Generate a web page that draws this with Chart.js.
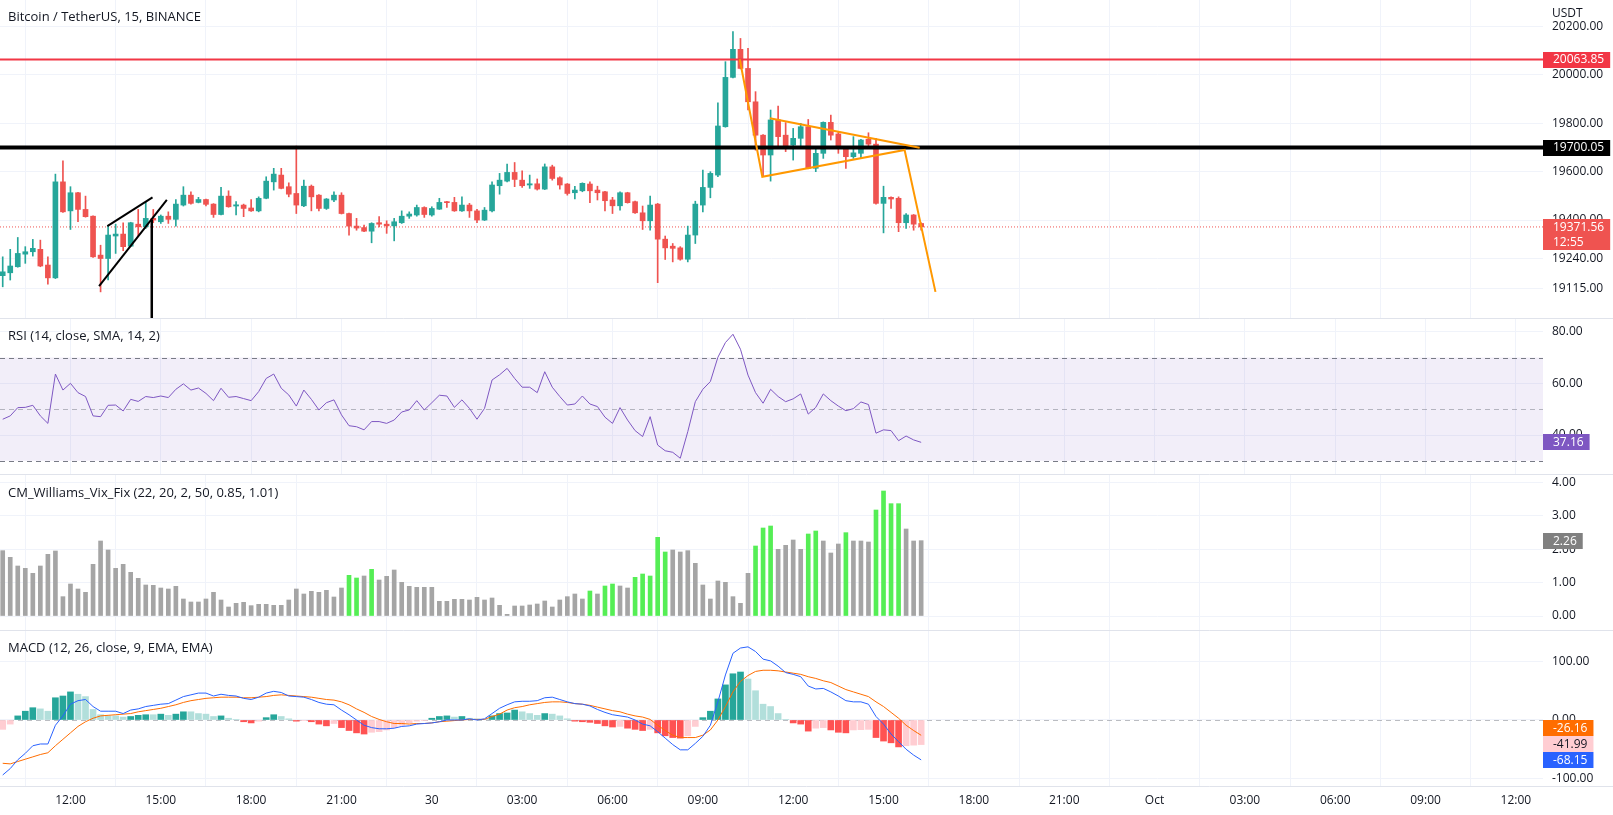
<!DOCTYPE html>
<html>
<head>
<meta charset="utf-8">
<title>BTCUSDT 15</title>
<script src="https://cdn.jsdelivr.net/npm/chart.js@4.4.1/dist/chart.umd.min.js"></script>
<style>
  html, body { margin: 0; padding: 0; background: #fff; }
  body { position: relative; width: 1613px; height: 815px; overflow: hidden; font-family: "Open Sans", sans-serif; color: #131722; }
  canvas { position: absolute; left: 0; }
  .label { position: absolute; left: 8px; font-size: 13px; line-height: 16px; white-space: nowrap; }
</style>
</head>
<body>
<canvas id="priceChart" width="1613" height="318" style="top:0"></canvas>
<canvas id="rsiChart" width="1613" height="156" style="top:318px"></canvas>
<canvas id="vixChart" width="1613" height="156" style="top:474px"></canvas>
<canvas id="macdChart" width="1613" height="185" style="top:630px"></canvas>
<div class="label" style="top:8px">Bitcoin / TetherUS, 15, BINANCE</div>
<div class="label" style="top:327px">RSI (14, close, SMA, 14, 2)</div>
<div class="label" style="top:484px">CM_Williams_Vix_Fix (22, 20, 2, 50, 0.85, 1.01)</div>
<div class="label" style="top:639px">MACD (12, 26, close, 9, EMA, EMA)</div>
<div class="label" style="left:1552px;top:5px;font-size:12px">USDT</div>
<script>
// 15m candles, 29 Sep 09:45 -> 30 Sep 16:15
const opens = [19170, 19182, 19207, 19259, 19269, 19279, 19214, 19161, 19558, 19438,
  19513, 19444, 19416, 19255, 19241, 19334, 19342, 19292, 19383, 19372,
  19407, 19393, 19416, 19403, 19462, 19503, 19473, 19485, 19466, 19423,
  19499, 19458, 19462, 19450, 19438, 19490, 19558, 19586, 19538, 19510,
  19459, 19540, 19503, 19448, 19483, 19503, 19427, 19375, 19369, 19354,
  19389, 19383, 19376, 19389, 19416, 19421, 19452, 19421, 19445, 19476,
  19473, 19438, 19462, 19438, 19400, 19438, 19542, 19561, 19597, 19565,
  19545, 19550, 19528, 19620, 19575, 19549, 19513, 19521, 19549, 19524,
  19517, 19483, 19459, 19513, 19476, 19430, 19397, 19466, 19321, 19292,
  19285, 19238, 19338, 19462, 19535, 19586, 19786, 19990, 20106, 20027,
  19889, 19751, 19669, 19814, 19751, 19710, 19738, 19786, 19614, 19676,
  19804, 19756, 19696, 19662, 19676, 19734, 19714, 19469, 19494, 19490,
  19389, 19421, 19386];
const highs = [19248, 19279, 19328, 19290, 19320, 19317, 19248, 19590, 19645, 19538,
  19515, 19499, 19418, 19296, 19375, 19383, 19389, 19391, 19444, 19476,
  19444, 19421, 19434, 19485, 19538, 19517, 19494, 19487, 19468, 19535,
  19521, 19476, 19466, 19485, 19496, 19579, 19614, 19614, 19554, 19706,
  19565, 19545, 19505, 19489, 19517, 19513, 19429, 19407, 19379, 19389,
  19414, 19397, 19407, 19438, 19434, 19462, 19455, 19455, 19490, 19477,
  19494, 19496, 19469, 19444, 19452, 19558, 19593, 19632, 19638, 19604,
  19586, 19570, 19632, 19627, 19579, 19551, 19540, 19554, 19558, 19540,
  19519, 19494, 19517, 19515, 19478, 19458, 19499, 19469, 19334, 19303,
  19290, 19375, 19478, 19607, 19600, 19885, 20055, 20179, 20151, 20110,
  19931, 19753, 19855, 19871, 19803, 19779, 19800, 19816, 19696, 19806,
  19834, 19765, 19703, 19745, 19734, 19761, 19738, 19540, 19496, 19496,
  19427, 19423, 19389];
const lows = [19124, 19152, 19205, 19221, 19251, 19207, 19135, 19158, 19432, 19361,
  19393, 19412, 19245, 19103, 19152, 19262, 19273, 19290, 19331, 19365,
  19389, 19386, 19386, 19375, 19458, 19466, 19471, 19458, 19411, 19421,
  19453, 19421, 19414, 19436, 19434, 19488, 19524, 19529, 19496, 19427,
  19455, 19438, 19438, 19444, 19476, 19425, 19338, 19358, 19352, 19306,
  19372, 19345, 19314, 19386, 19407, 19416, 19411, 19416, 19444, 19452,
  19436, 19436, 19411, 19389, 19398, 19434, 19507, 19558, 19538, 19535,
  19531, 19524, 19526, 19565, 19528, 19503, 19487, 19517, 19472, 19483,
  19438, 19427, 19441, 19470, 19427, 19361, 19358, 19141, 19237, 19227,
  19234, 19227, 19303, 19434, 19492, 19579, 19784, 19988, 20025, 19855,
  19689, 19579, 19561, 19703, 19683, 19648, 19703, 19612, 19600, 19655,
  19731, 19676, 19614, 19655, 19655, 19703, 19466, 19347, 19448, 19352,
  19365, 19358, 19358];
const closes = [19186, 19210, 19262, 19269, 19283, 19210, 19161, 19558, 19434, 19513,
  19444, 19414, 19248, 19241, 19338, 19342, 19290, 19389, 19372, 19407,
  19400, 19416, 19403, 19466, 19503, 19469, 19485, 19465, 19423, 19499,
  19455, 19463, 19448, 19438, 19490, 19561, 19590, 19531, 19507, 19462,
  19540, 19496, 19448, 19487, 19503, 19427, 19375, 19367, 19354, 19386,
  19383, 19376, 19393, 19416, 19425, 19452, 19423, 19448, 19473, 19472,
  19438, 19462, 19438, 19400, 19441, 19545, 19565, 19597, 19568, 19542,
  19550, 19528, 19620, 19572, 19545, 19510, 19524, 19552, 19521, 19513,
  19480, 19459, 19513, 19472, 19430, 19397, 19462, 19321, 19285, 19283,
  19238, 19338, 19466, 19535, 19593, 19789, 19990, 20106, 20027, 19889,
  19751, 19669, 19814, 19745, 19703, 19738, 19786, 19614, 19676, 19804,
  19751, 19696, 19662, 19678, 19731, 19714, 19469, 19494, 19487, 19389,
  19421, 19383, 19371.56];

const rsi = [46.1, 47.4, 50.6, 50.7, 51.5, 47.4, 44.5, 63.6, 57.4, 60.0,
  56.4, 54.9, 47.4, 47.1, 51.5, 51.6, 49.3, 53.8, 53.0, 54.9,
  54.5, 55.1, 54.5, 57.7, 59.8, 57.4, 58.2, 56.1, 53.3, 58.1,
  54.6, 54.9, 54.1, 53.3, 56.8, 61.9, 63.6, 58.1, 55.5, 51.2,
  57.4, 53.8, 49.7, 52.5, 53.6, 47.8, 43.6, 43.2, 42.0, 45.2,
  45.2, 44.5, 45.8, 48.9, 49.7, 53.3, 49.7, 52.5, 55.4, 55.1,
  50.7, 53.6, 50.3, 46.1, 50.3, 61.3, 63.3, 65.8, 61.9, 58.5,
  58.5, 56.4, 64.5, 58.5, 54.9, 51.6, 52.0, 55.1, 52.0, 51.0,
  46.9, 44.5, 50.6, 45.8, 41.7, 39.4, 47.1, 36.1, 33.9, 33.3,
  31.0, 41.3, 52.9, 57.7, 60.7, 70.1, 75.8, 79.0, 73.2, 63.2,
  56.4, 52.3, 57.7, 54.9, 52.9, 54.0, 55.9, 48.1, 50.7, 55.9,
  53.3, 51.2, 49.4, 50.2, 52.8, 51.8, 40.7, 42.0, 41.7, 37.8,
  39.6, 38.1, 37.16];

const vix = [1.96, 1.76, 1.50, 1.43, 1.28, 1.50, 1.85, 1.95, 0.58, 0.96,
  0.81, 0.71, 1.55, 2.25, 1.98, 1.43, 1.55, 1.31, 1.13, 0.93,
  0.92, 0.84, 0.81, 0.89, 0.51, 0.42, 0.42, 0.51, 0.71, 0.48,
  0.27, 0.38, 0.41, 0.31, 0.35, 0.35, 0.32, 0.32, 0.48, 0.81,
  0.66, 0.74, 0.71, 0.77, 0.57, 0.84, 1.22, 1.14, 1.20, 1.40,
  1.08, 1.19, 1.38, 1.01, 0.89, 0.86, 0.86, 0.86, 0.44, 0.44,
  0.50, 0.50, 0.48, 0.56, 0.48, 0.54, 0.32, 0.05, 0.30, 0.30,
  0.33, 0.36, 0.45, 0.27, 0.48, 0.58, 0.66, 0.51, 0.75, 0.66,
  0.90, 0.96, 0.90, 0.84, 1.16, 1.26, 1.20, 2.36, 1.92, 1.98,
  1.92, 1.96, 1.58, 0.93, 0.51, 1.05, 1.01, 0.58, 0.38, 1.28,
  2.10, 2.64, 2.70, 2.00, 2.12, 2.28, 2.00, 2.46, 2.55, 2.25,
  1.89, 2.16, 2.50, 2.25, 2.25, 2.22, 3.18, 3.75, 3.37, 3.37,
  2.61, 2.25, 2.26];
// 1 = bar above the Vix Fix signal band (lime)
const vixSignal = [0, 0, 0, 0, 0, 0, 0, 0, 0, 0,
  0, 0, 0, 0, 0, 0, 0, 0, 0, 0,
  0, 0, 0, 0, 0, 0, 0, 0, 0, 0,
  0, 0, 0, 0, 0, 0, 0, 0, 0, 0,
  0, 0, 0, 0, 0, 0, 1, 1, 0, 1,
  0, 0, 0, 0, 0, 0, 0, 0, 0, 0,
  0, 0, 0, 0, 0, 0, 0, 0, 0, 0,
  0, 0, 0, 0, 0, 0, 0, 0, 1, 0,
  1, 1, 0, 0, 1, 1, 1, 1, 1, 0,
  0, 0, 0, 0, 0, 0, 0, 0, 0, 0,
  1, 1, 1, 0, 0, 0, 0, 1, 1, 0,
  0, 0, 1, 0, 0, 0, 1, 1, 1, 1,
  0, 0, 0];

const macdHist = [-16, -7, 7, 15, 21, 19, 15, 38, 41, 48,
  44, 40, 18, 9, 7, 7, 5, 6, 8, 9,
  9, 10, 8, 10, 14, 14, 11, 10, 6, 7,
  3, 1, -3, -5, -2, 4, 9, 6, 2, -2,
  -1, -3, -7, -10, -6, -13, -18, -22, -24, -21,
  -20, -17, -13, -9, -5, -2, -1, 3, 6, 7,
  5, 6, 3, 2, 1, 7, 11, 12, 17, 14,
  11, 8, 11, 10, 7, 2, -2, -3, -4, -6,
  -10, -12, -11, -14, -16, -18, -16, -22, -27, -30,
  -31, -27, -11, 4, 15, 36, 60, 79, 82, 70,
  50, 27, 23, 11, 1, -5, -7, -19, -14, -13,
  -17, -21, -22, -17, -16.5, -16, -30, -36, -39, -46,
  -44, -43, -41.99];
const macdLine = [-94, -83, -68, -57, -44, -41, -41, -9, 7, 27,
  33, 35, 23, 15, 15, 15, 11, 17, 19, 23,
  25, 27, 28, 34, 40, 43, 46, 46, 41, 44,
  42, 41, 37, 35, 39, 46, 49, 47, 41, 40,
  39, 35, 30, 27, 26, 17, 9, 0, -9, -13,
  -15, -15, -14, -11, -10, -7, -6, -5, -3, 0,
  0, 0, 2, 0, 2, 11, 20, 26, 31, 32,
  32, 33, 38, 39, 35, 31, 28, 27, 24, 18,
  13, 9, 7, 5, 0, -7, -10, -20, -31, -42,
  -51, -51, -40, -28, -9, 31, 77, 114, 123, 125,
  117, 104, 101, 92, 81, 78, 74, 58, 53, 54,
  48, 41, 33, 31, 31, 27, 6, -7, -24, -37,
  -50, -60, -68.15];
const signalLine = [-74, -75, -71, -67, -63, -59, -56, -44, -33, -22,
  -11, -3, 3, 7, 8, 9, 10, 11, 14, 16,
  18, 20, 23, 26, 30, 33, 35, 37, 38, 39,
  39, 39, 38, 38, 39, 40, 42, 43, 42, 41,
  40, 39, 37, 35, 34, 31, 26, 19, 13, 6,
  1, -3, -6, -6, -7, -6, -6, -5, -3, -2,
  -1, 0, 1, 1, 1, 6, 10, 17, 21, 23,
  26, 28, 30, 31, 31, 30, 28, 27, 25, 22,
  19, 16, 14, 10, 7, 5, 1, -9, -18, -26,
  -30, -30, -30, -26, -17, 0, 23, 48, 66, 76,
  83, 85, 85, 84, 82, 80, 78, 74, 71, 67,
  64, 58, 52, 48, 44, 40, 31, 23, 13, 3,
  -9, -18, -26.16];

// time axis: bar numbers of the labelled ticks
const timeTicks = [9, 21, 33, 45, 57, 69, 81, 93, 105, 117, 129, 141, 153, 165, 177, 189, 201];
const timeLabels = ['12:00', '15:00', '18:00', '21:00', '30', '03:00', '06:00', '09:00', '12:00',
  '15:00', '18:00', '21:00', 'Oct', '03:00', '06:00', '09:00', '12:00'];

const priceTicks = [20200, 20000, 19800, 19600, 19400, 19240, 19115];
const rsiTicks = [80, 60, 40];
const vixTicks = [4, 3, 2, 1, 0];
const macdTicks = [100, 0, -100];

// horizontal levels and drawings (bar number, price)
const resistance = 20063.85;
const support = 19700.05;
const flagPath = [{ x: 97.9, y: 20065 }, { x: 100.9, y: 19579 }, { x: 119.8, y: 19690 }, { x: 123.9, y: 19103 }];
const flagTop = [{ x: 101.9, y: 19821 }, { x: 121.8, y: 19699 }];
const wedgeTop = [{ x: 13.9, y: 19375 }, { x: 19.9, y: 19494 }];
const wedgeBottom = [{ x: 12.8, y: 19127 }, { x: 21.8, y: 19483 }];
const wedgeDrop = [{ x: 19.8, y: 19400 }, { x: 19.8, y: 18980 }];

const GREEN = '#26a69a', RED = '#ef5350', GRID = '#f0f3fa', SEP = '#e0e3eb', TEXT = '#131722';
const X_MIN = -0.36, X_MAX = 204.6, AXIS_W = 70;

Chart.defaults.font.family = "'Open Sans', sans-serif";
Chart.defaults.font.size = 12;
Chart.defaults.color = TEXT;

const bars = closes.map((_, i) => i);
const lastClose = closes[closes.length - 1];

function baseOptions(yMin, yMax, yTicks, showTime) {
  return {
    responsive: false,
    animation: false,
    events: [],
    layout: { padding: 0, autoPadding: false },
    plugins: { legend: { display: false }, tooltip: { enabled: false } },
    scales: {
      x: {
        type: 'linear', min: X_MIN, max: X_MAX, offset: false,
        grid: { color: GRID, drawTicks: false },
        border: { display: false },
        ticks: { display: showTime, padding: 7, maxRotation: 0, autoSkip: false, callback: (v, k) => timeLabels[k] },
        afterBuildTicks: s => { s.ticks = timeTicks.map(v => ({ value: v })); },
        afterFit: s => { s.height = showTime ? 29 : 0; s.paddingLeft = 0; s.paddingRight = 0; }
      },
      y: {
        position: 'right', min: yMin, max: yMax,
        grid: { color: GRID, drawTicks: false },
        border: { display: false },
        ticks: { padding: 9, callback: v => v.toFixed(2) },
        afterBuildTicks: s => { s.ticks = yTicks.map(v => ({ value: v })); },
        afterFit: s => { s.width = AXIS_W; s.paddingTop = 0; s.paddingBottom = 0; }
      }
    }
  };
}

function hLine(chart, value, color, width, dash) {
  const { ctx, chartArea: a } = chart;
  const py = Math.round(chart.scales.y.getPixelForValue(value)) + 0.5;
  ctx.save();
  ctx.strokeStyle = color; ctx.lineWidth = width; ctx.setLineDash(dash || []);
  ctx.beginPath(); ctx.moveTo(a.left, py); ctx.lineTo(a.right, py); ctx.stroke();
  ctx.restore();
}

function separator(chart, py) {
  const ctx = chart.ctx;
  ctx.save();
  ctx.strokeStyle = SEP; ctx.lineWidth = 1;
  ctx.beginPath(); ctx.moveTo(0, py + 0.5); ctx.lineTo(chart.width, py + 0.5); ctx.stroke();
  ctx.restore();
}

function valueBox(chart, py, lines, bg, fg) {
  const ctx = chart.ctx, left = chart.chartArea.right;
  ctx.save();
  ctx.font = "12px 'Open Sans'";
  const w = Math.max(...lines.map(t => ctx.measureText(t).width)) + 16;
  ctx.fillStyle = bg;
  ctx.fillRect(left, Math.round(py - 8), w, 15 * lines.length + 1);
  ctx.fillStyle = fg; ctx.textBaseline = 'middle';
  lines.forEach((t, k) => ctx.fillText(t, left + 10, py + k * 15 + 0.5));
  ctx.restore();
}

const flat = (v, color, width, dash, order) => ({
  type: 'line', data: [{ x: X_MIN, y: v }, { x: X_MAX, y: v }],
  borderColor: color, borderWidth: width, borderDash: dash || [], pointRadius: 0, order
});
const drawing = (pts, color, width) => ({
  type: 'line', data: pts, borderColor: color, borderWidth: width, pointRadius: 0, order: 0
});
const candleColor = c => closes[c.dataIndex] >= opens[c.dataIndex] ? GREEN : RED;

// price pane
const priceOpts = baseOptions(18995, 20310, priceTicks, false);
new Chart(document.getElementById('priceChart'), {
  type: 'bar',
  data: {
    datasets: [
      { data: bars.map(i => ({ x: i, y: [opens[i], closes[i]] })), backgroundColor: candleColor,
        barThickness: 5, grouped: false, minBarLength: 1, order: 5 },
      { data: bars.map(i => ({ x: i, y: [lows[i], highs[i]] })), backgroundColor: candleColor,
        barThickness: 1, grouped: false, order: 6 },
      flat(lastClose, RED, 1, [1, 2], 8),
      flat(resistance, '#f23645', 2, [], 1),
      flat(support, '#000000', 4, [], 1),
      drawing(flagPath, '#ff9800', 2),
      drawing(flagTop, '#ff9800', 2),
      drawing(wedgeTop, '#000000', 2),
      drawing(wedgeBottom, '#000000', 2),
      drawing(wedgeDrop, '#000000', 2.5)
    ]
  },
  options: priceOpts,
  plugins: [{
    id: 'priceLabels',
    afterDraw(chart) {
      const y = chart.scales.y;
      valueBox(chart, y.getPixelForValue(resistance), [resistance.toFixed(2)], '#f23645', '#fff');
      valueBox(chart, y.getPixelForValue(support), [support.toFixed(2)], '#000000', '#fff');
      valueBox(chart, y.getPixelForValue(lastClose), [lastClose.toFixed(2), '12:55'], RED, '#fff');
    }
  }]
});

// RSI pane
new Chart(document.getElementById('rsiChart'), {
  type: 'line',
  data: {
    datasets: [{ data: bars.map(i => ({ x: i, y: rsi[i] })), borderColor: '#7e57c2', borderWidth: 1, pointRadius: 0 }]
  },
  options: baseOptions(24.9, 85.3, rsiTicks, false),
  plugins: [{
    id: 'rsiBand',
    beforeDatasetsDraw(chart) {
      const { ctx, chartArea: a, scales: { y } } = chart;
      const top = y.getPixelForValue(70), bottom = y.getPixelForValue(30);
      ctx.save();
      ctx.fillStyle = 'rgba(126, 87, 194, 0.1)';
      ctx.fillRect(a.left, top, a.right - a.left, bottom - top);
      ctx.restore();
      hLine(chart, 70, '#787b86', 1, [5, 4]);
      hLine(chart, 50, 'rgba(120, 123, 134, 0.5)', 1, [5, 4]);
      hLine(chart, 30, '#787b86', 1, [5, 4]);
    },
    afterDraw(chart) {
      separator(chart, 0);
      valueBox(chart, chart.scales.y.getPixelForValue(rsi[rsi.length - 1]), [rsi[rsi.length - 1].toFixed(2)], '#7e57c2', '#fff');
    }
  }]
});

// Williams Vix Fix pane
new Chart(document.getElementById('vixChart'), {
  type: 'bar',
  data: {
    datasets: [{
      data: bars.map(i => ({ x: i, y: vix[i] })),
      backgroundColor: c => vixSignal[c.dataIndex] ? '#55ee55' : '#a5a5a5',
      barThickness: 4
    }]
  },
  options: baseOptions(-0.42, 4.26, vixTicks, false),
  plugins: [{
    id: 'vixLabels',
    afterDraw(chart) {
      separator(chart, 0);
      valueBox(chart, chart.scales.y.getPixelForValue(vix[vix.length - 1]), [vix[vix.length - 1].toFixed(2)], '#808080', '#fff');
    }
  }]
});

// MACD pane
const histColor = c => {
  const i = c.dataIndex, v = macdHist[i], prev = i > 0 ? macdHist[i - 1] : v - 1;
  if (v >= 0) return v > prev ? '#26a69a' : '#b2dfdb';
  return v > prev ? '#ffcdd2' : '#ff5252';
};
new Chart(document.getElementById('macdChart'), {
  type: 'bar',
  data: {
    datasets: [
      { data: bars.map(i => ({ x: i, y: macdHist[i] })), backgroundColor: histColor, barThickness: 6, order: 3 },
      { type: 'line', data: bars.map(i => ({ x: i, y: macdLine[i] })), borderColor: '#2962ff', borderWidth: 1, pointRadius: 0, order: 1 },
      { type: 'line', data: bars.map(i => ({ x: i, y: signalLine[i] })), borderColor: '#ff6d00', borderWidth: 1, pointRadius: 0, order: 2 }
    ]
  },
  options: baseOptions(-112.8, 153.8, macdTicks, true),
  plugins: [{
    id: 'macdLabels',
    beforeDatasetsDraw(chart) {
      hLine(chart, 0, 'rgba(120, 123, 134, 0.5)', 1, [5, 4]);
    },
    afterDraw(chart) {
      const y = chart.scales.y, n = macdLine.length - 1;
      separator(chart, 0);
      separator(chart, chart.chartArea.bottom);
      // stack the last-value labels bottom-up so they do not overlap
      const items = [
        { v: macdLine[n], bg: '#2962ff', fg: '#fff' },
        { v: macdHist[n], bg: '#ffcdd2', fg: TEXT },
        { v: signalLine[n], bg: '#ff6d00', fg: '#fff' }
      ].map(o => ({ ...o, py: y.getPixelForValue(o.v) })).sort((a, b) => b.py - a.py);
      let limit = Infinity;
      items.forEach(o => {
        const py = Math.min(o.py, limit);
        valueBox(chart, py, [o.v.toFixed(2)], o.bg, o.fg);
        limit = py - 16;
      });
    }
  }]
});
</script>
</body>
</html>
